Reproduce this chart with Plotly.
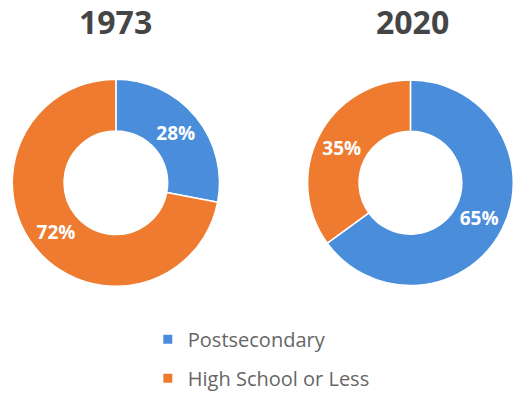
import plotly.graph_objects as go

# Share of jobs by education requirement
categories = ["Postsecondary", "High School or Less"]
years = ["1973", "2020"]
shares_1973 = [28, 72]
shares_2020 = [65, 35]

colors = ["#4A8EDB", "#EE7B2F"]
font_family = "Open Sans"

fig = go.Figure()

for year, vals, dom in [
    (years[0], shares_1973, dict(x=[0.019, 0.431], y=[0.262, 0.796])),
    (years[1], shares_2020, dict(x=[0.594, 1.0], y=[0.264, 0.794])),
]:
    fig.add_trace(go.Pie(
        labels=categories,
        values=vals,
        hole=0.5,
        sort=False,
        direction="clockwise",
        rotation=0,
        domain=dom,
        marker=dict(colors=colors, line=dict(color="white", width=1.5)),
        texttemplate="<b>%{value}%</b>",
        textposition="inside",
        insidetextorientation="horizontal",
        textfont=dict(family=font_family, size=19, color="white"),
        showlegend=False,
        hoverinfo="label+value",
        name=year,
    ))

# Legend entries as square markers, one group each to control spacing
for cat, col in zip(categories, colors):
    fig.add_trace(go.Scatter(
        x=[None], y=[None], mode="markers", name=cat,
        legendgroup=cat,
        marker=dict(symbol="square", size=9, color=col),
    ))

for year, xc in [(years[0], 0.225), (years[1], 0.800)]:
    fig.add_annotation(
        text=f"<b>{year}</b>", x=xc, y=1 - 22 / 398, xref="paper", yref="paper",
        showarrow=False, xanchor="center", yanchor="middle",
        font=dict(family=font_family, size=32, color="#454545"),
    )

fig.update_layout(
    width=515, height=398,
    margin=dict(l=0, r=0, t=0, b=0),
    paper_bgcolor="white", plot_bgcolor="white",
    xaxis=dict(visible=False), yaxis=dict(visible=False),
    legend=dict(
        x=0.287, y=1 - 328 / 398, xanchor="left", yanchor="top",
        font=dict(family=font_family, size=20, color="#666666"),
        tracegroupgap=10, itemwidth=30,
    ),
)

fig.write_html("out.html")
